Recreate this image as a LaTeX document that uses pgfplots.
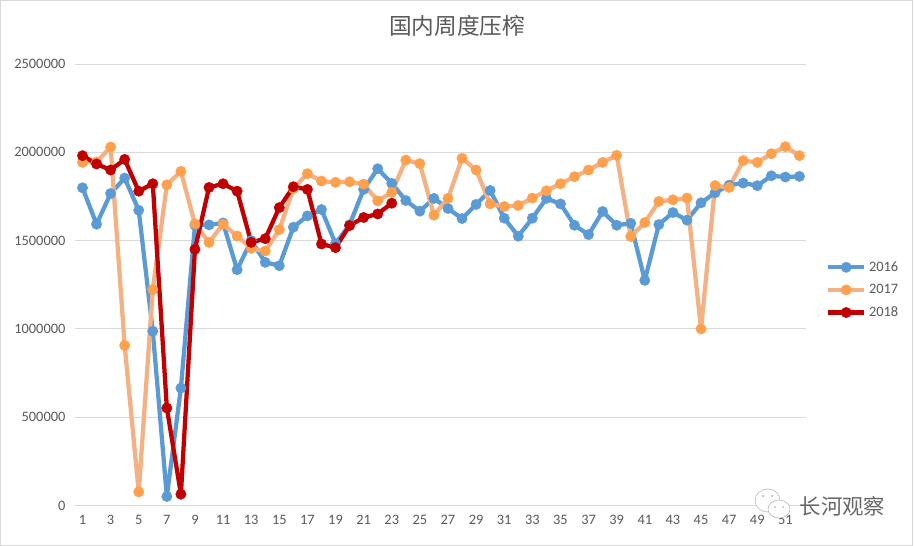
\documentclass[border=0pt]{standalone}
\usepackage{fontspec}
\setmainfont{Carlito}
\newfontfamily\cjk{Noto Sans CJK SC}
\usepackage{pgfplots}
\usepackage{pgfplotstable}
\pgfplotsset{compat=1.18}

\definecolor{c16}{HTML}{5B9BD5}
\definecolor{c17line}{HTML}{F4B183}
\definecolor{c17mark}{HTML}{FFA04D}
\definecolor{c18}{HTML}{C00000}
\definecolor{gridc}{HTML}{D9D9D9}
\definecolor{textc}{HTML}{595959}

% weekly values
\pgfplotstableread{
w v
1 1799000
2 1593000
3 1767000
4 1854000
5 1672000
6 987000
7 51000
8 665000
9 1587000
10 1589000
11 1600000
12 1335000
13 1500000
14 1377000
15 1358000
16 1576000
17 1640000
18 1676000
19 1483000
20 1590000
21 1790000
22 1907000
23 1824000
24 1727000
25 1667000
26 1739000
27 1682000
28 1625000
29 1705000
30 1784000
31 1627000
32 1525000
33 1627000
34 1739000
35 1708000
36 1587000
37 1534000
38 1665000
39 1587000
40 1598000
41 1275000
42 1591000
43 1659000
44 1616000
45 1714000
46 1771000
47 1814000
48 1826000
49 1811000
50 1867000
51 1860000
52 1864000
}\tblA
\pgfplotstableread{
w v
1 1943000
2 1945000
3 2030000
4 906000
5 77000
6 1223000
7 1816000
8 1892000
9 1595000
10 1490000
11 1593000
12 1526000
13 1456000
14 1441000
15 1562000
16 1795000
17 1879000
18 1837000
19 1830000
20 1833000
21 1820000
22 1725000
23 1773000
24 1956000
25 1936000
26 1644000
27 1739000
28 1966000
29 1900000
30 1708000
31 1693000
32 1699000
33 1741000
34 1782000
35 1822000
36 1862000
37 1900000
38 1943000
39 1983000
40 1523000
41 1602000
42 1722000
43 1731000
44 1741000
45 1000000
46 1812000
47 1801000
48 1953000
49 1943000
50 1992000
51 2032000
52 1981000
}\tblB
\pgfplotstableread{
w v
1 1981000
2 1934000
3 1900000
4 1960000
5 1780000
6 1822000
7 552000
8 64000
9 1451000
10 1801000
11 1822000
12 1780000
13 1490000
14 1511000
15 1687000
16 1805000
17 1790000
18 1481000
19 1460000
20 1585000
21 1631000
22 1651000
23 1712000
}\tblC

\begin{document}
\begin{tikzpicture}[x=0.75pt,y=0.75pt]
\useasboundingbox (0,0) rectangle (914,546);
\draw[gridc,line width=0.75pt] (0.5,0.8) rectangle (912.5,545.5);
\begin{axis}[
	name=ax,
	at={(56.6pt,30.375pt)},
	anchor=south west,
	scale only axis,
	width=548.25pt,
	height=331.1pt,
	xmin=0.5,xmax=52.5,
	ymin=0,ymax=2500000,
	xtick={1,3,...,51},
	ytick={0,500000,...,2500000},
	scaled y ticks=false,
	/pgf/number format/fixed,
	/pgf/number format/1000 sep={},
	/pgf/number format/assume math mode=true,
	ymajorgrids,
	grid style={gridc,line width=0.75pt},
	axis x line*=bottom,
	axis y line*=left,
	x axis line style={gridc,line width=0.75pt,-},
	y axis line style={draw=none,-},
	major tick length=0pt,
	ticklabel style={font=\fontsize{10.8}{12}\selectfont,text=textc},
	xticklabel style={yshift=-3.5pt},
	yticklabel style={xshift=-4pt},
	legend cell align=left,
	legend style={at={(rel axis cs:1.0265,0.5595)},anchor=north west,draw=none,fill=none,
		font=\fontsize{10.8}{12}\selectfont,text=textc,row sep=4.3pt,inner sep=0pt},
	legend image code/.code={
		\draw[#1,mark=none] (0pt,0pt) -- (27pt,0pt);
		\path[#1] plot coordinates {(13.5pt,0pt)};
	},
	every axis plot/.append style={line width=3.2pt,line join=round,mark=*,mark size=3.9pt},
]
\addplot[c16,mark options={fill=c16,draw=c16,line width=0.3pt}] table[x=w,y=v] {\tblA};
\addlegendentry{2016}
\addplot[c17line,mark options={fill=c17mark,draw=c17mark,line width=0.3pt}] table[x=w,y=v] {\tblB};
\addlegendentry{2017}
\addplot[c18,mark options={fill=c18,draw=c18,line width=0.3pt}] table[x=w,y=v] {\tblC};
\addlegendentry{2018}
\end{axis}
\node[font=\cjk\fontsize{17}{20}\selectfont,text=textc] at (457,520.5) {国内周度压榨};
% watermark
\filldraw[fill=white,draw=black!30,line width=0.4pt] (767.5,45.5) ellipse [x radius=12.5,y radius=11.5];
\filldraw[fill=white,draw=black!30,line width=0.4pt] (779,37) ellipse [x radius=11,y radius=9];
\fill[black!35] (763,50) circle (1) (772,50) circle (1) (775,39) circle (0.8) (783,39) circle (0.8);
\node[font=\cjk\fontsize{16}{18}\selectfont,text=black!60] at (842.5,39.5) {长河观察};
\end{tikzpicture}
\end{document}
